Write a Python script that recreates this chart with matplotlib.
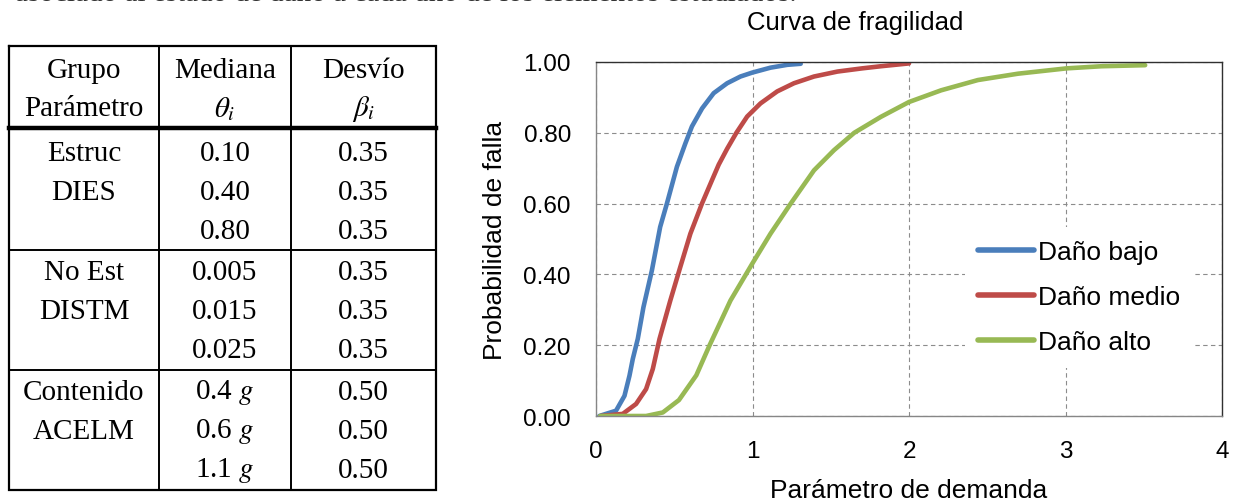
import matplotlib.pyplot as plt
import numpy as np

plt.rcParams['mathtext.fontset'] = 'stix'

# --- table data ---
grupos = [["Estruc", "DIES"], ["No Est", "DISTM"], ["Contenido", "ACELM"]]
medianas = [["0.10", "0.40", "0.80"],
            ["0.005", "0.015", "0.025"],
            ["0.4 $g$", "0.6 $g$", "1.1 $g$"]]
desvios = [["0.35", "0.35", "0.35"],
           ["0.35", "0.35", "0.35"],
           ["0.50", "0.50", "0.50"]]

# --- curve data ---
bajo_x = [0.021, 0.128, 0.182, 0.214, 0.235, 0.267, 0.303, 0.357, 0.41, 0.453, 0.517,
          0.571, 0.613, 0.678, 0.752, 0.838, 0.923, 0.998, 1.115, 1.222, 1.308]
bajo_y = [0.0, 0.015, 0.057, 0.114, 0.161, 0.218, 0.307, 0.411, 0.534, 0.60, 0.704,
          0.77, 0.818, 0.869, 0.912, 0.94, 0.959, 0.97, 0.984, 0.992, 0.995]
medio_x = [0.03, 0.171, 0.256, 0.32, 0.363, 0.406, 0.474, 0.538, 0.603, 0.677, 0.74,
           0.784, 0.838, 0.897, 0.966, 1.051, 1.158, 1.265, 1.393, 1.543, 1.70, 1.82, 2.0]
medio_y = [0.0, 0.006, 0.034, 0.076, 0.133, 0.218, 0.325, 0.42, 0.515, 0.60, 0.665,
           0.71, 0.755, 0.80, 0.846, 0.883, 0.917, 0.94, 0.959, 0.973, 0.982, 0.988, 0.996]
alto_x = [0.026, 0.32, 0.427, 0.53, 0.641, 0.726, 0.80, 0.859, 0.998, 1.115, 1.244,
          1.393, 1.521, 1.65, 1.82, 2.0, 2.205, 2.44, 2.697, 3.006, 3.23, 3.509]
alto_y = [0.0, 0.0, 0.01, 0.045, 0.115, 0.20, 0.27, 0.326, 0.43, 0.515, 0.60,
          0.694, 0.751, 0.80, 0.845, 0.887, 0.92, 0.949, 0.967, 0.982, 0.988, 0.991]

W, H = 1236, 502
fig = plt.figure(figsize=(W / 100, H / 100), dpi=100)

# caption line of the page, almost entirely cut off at the top edge
fig.text(15 / W, 1 - 1 / H, "asociado al estado de daño a cada uno de los elementos estudiados.",
         family='Liberation Serif', fontsize=21, va='baseline', ha='left', color='#333333')

# --- table drawn in pixel coordinates ---
tab = fig.add_axes([0, 0, 1, 1])
tab.set_xlim(0, W)
tab.set_ylim(H, 0)
tab.axis('off')

x0, x1, x2, x3 = 9, 159, 291, 436
y_top, y_head, y_bot = 47, 129, 491
y_sep = [251, 371]
tab.plot([x0, x3, x3, x0, x0], [y_top, y_top, y_bot, y_bot, y_top], color='black', lw=1.6,
         solid_joinstyle='miter')
tab.plot([x1, x1], [y_top, y_bot], color='black', lw=1.4)
tab.plot([x2, x2], [y_top, y_bot], color='black', lw=1.4)
tab.plot([x0, x3], [y_head, y_head], color='black', lw=3.2)
for ys in y_sep:
    tab.plot([x0, x3], [ys, ys], color='black', lw=1.4)

cx = [(x0 + x1) / 2, (x1 + x2) / 2, (x2 + x3) / 2]
tfont = dict(family='Liberation Serif', fontsize=21, ha='center', va='center')
tab.text(cx[0], 71, "Grupo", **tfont)
tab.text(cx[0], 109, "Parámetro", **tfont)
tab.text(cx[1], 71, "Mediana", **tfont)
tab.text(cx[1], 109, r"$\theta_i$", **tfont)
tab.text(cx[2], 71, "Desvío", **tfont)
tab.text(cx[2], 109, r"$\beta_i$", **tfont)

row_h = 39
for g in range(3):
    y_start = 154 + g * 119.5
    for k, name in enumerate(grupos[g]):
        tab.text(cx[0], y_start + k * row_h, name, **tfont)
    for k in range(3):
        tab.text(cx[1], y_start + k * row_h, medianas[g][k], **tfont)
        tab.text(cx[2], y_start + k * row_h, desvios[g][k], **tfont)

# --- fragility chart ---
left, right, top, bottom = 596, 1222, 63, 417
ax = fig.add_axes([left / W, 1 - bottom / H, (right - left) / W, (bottom - top) / H])
ax.plot(bajo_x, bajo_y, color='#4A7EBB', lw=3.3, label='Daño bajo',
        solid_capstyle='round', solid_joinstyle='round')
ax.plot(medio_x, medio_y, color='#BE4B48', lw=3.3, label='Daño medio',
        solid_capstyle='round', solid_joinstyle='round')
ax.plot(alto_x, alto_y, color='#98B954', lw=3.3, label='Daño alto',
        solid_capstyle='round', solid_joinstyle='round')

ax.set_xlim(0, 4)
ax.set_ylim(0, 1)
ax.set_xticks([0, 1, 2, 3, 4])
yt = np.arange(0, 1.01, 0.2)
ax.set_yticks(yt)
ax.set_yticklabels([f"{v:.2f}" for v in yt])
ax.grid(True, color='#8c8c8c', linestyle=(0, (4, 3)), lw=0.8)
ax.tick_params(length=0, labelsize=17.5)
ax.tick_params(axis='y', pad=18)
ax.tick_params(axis='x', pad=17)
for lab in ax.get_xticklabels() + ax.get_yticklabels():
    lab.set_family('Liberation Sans')
for s in ax.spines.values():
    s.set_color('#303030')
    s.set_linewidth(1)
ax.spines['left'].set_color('#868686')
ax.spines['bottom'].set_color('#868686')

ax.set_xlabel("Parámetro de demanda", family='Liberation Sans', fontsize=19, labelpad=12)
ax.set_ylabel("Probabilidad de falla", family='Liberation Sans', fontsize=19, labelpad=12)
fig.text(855 / W, 1 - 23 / H, "Curva de fragilidad", family='Liberation Sans',
         fontsize=18.5, ha='center', va='center')

leg = ax.legend(loc='upper left', bbox_to_anchor=((965 - left) / (right - left), (bottom - 228) / (bottom - top)),
                borderaxespad=0, frameon=True,
                prop={'family': 'Liberation Sans', 'size': 19},
                handlelength=2.1, handletextpad=0.15, labelspacing=0.8, borderpad=0.5)
leg.get_frame().set_edgecolor('none')
leg.get_frame().set_facecolor('white')
leg.get_frame().set_alpha(1)
leg.get_frame().set_boxstyle('square', pad=0)
for line in leg.get_lines():
    line.set_linewidth(4)

fig.savefig("out.png", dpi=100)
